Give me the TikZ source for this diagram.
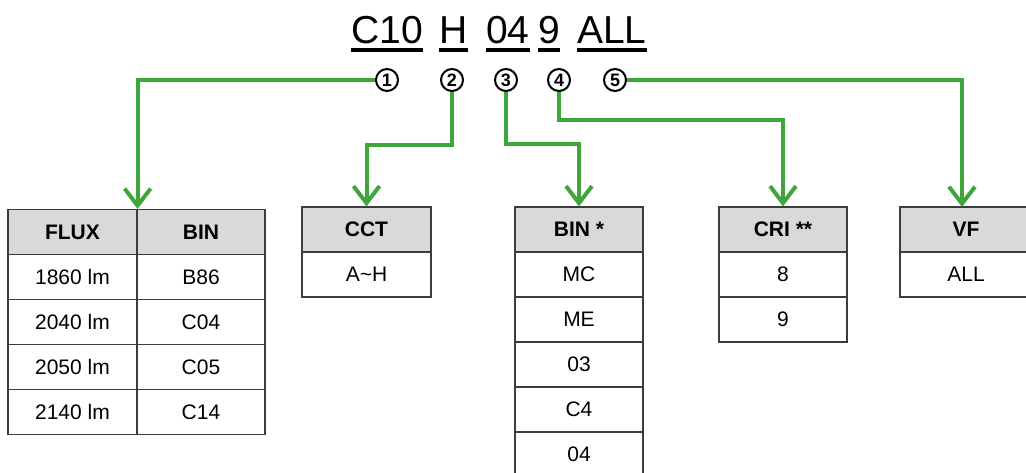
\documentclass[tikz,border=0pt]{standalone}
\usepackage{fontspec}
\setmainfont{Liberation Sans}
\usepackage{xcolor}
\usetikzlibrary{arrows.meta}
\definecolor{linkgreen}{HTML}{3FA53A}
\definecolor{headgray}{HTML}{D9D9D9}
\definecolor{gridgray}{HTML}{3C3C3C}

\begin{document}
\begin{tikzpicture}[
    x=1pt, y=-1pt,
    cell/.style={draw=gridgray, line width=1.2pt, minimum height=45pt,
        inner sep=0pt, font=\fontsize{21}{21}\selectfont},
    headcell/.style={cell, fill=headgray, font=\fontsize{21}{21}\selectfont\bfseries},
    codepart/.style={inner sep=0pt, anchor=base west, font=\fontsize{39}{39}\selectfont},
    uline/.style={line width=4pt},
    marker/.style={draw, circle, line width=2pt, inner sep=0pt, minimum size=22pt,
        font=\fontsize{18}{18}\selectfont\bfseries},
    link/.style={linkgreen, line width=4pt, -{Straight Barb[length=17pt, width=26pt, line width=4pt]}}
]
\useasboundingbox (0,0) rectangle (1026,472);

% code on top
\node[codepart] (pc10) at (351,43) {C10};
\node[codepart] (ph) at (439,43) {H};
\node[codepart] (p04) at (486,43) {04};
\node[codepart] (p9) at (538,43) {9};
\node[codepart] (pall) at (577,43) {ALL};
\foreach \p in {pc10,ph,p04,p9,pall}
    \draw[uline] (\p.west |- 0,50) -- (\p.east |- 0,50);

% circled numbers
\node[marker] (m1) at (387,80) {1};
\node[marker] (m2) at (452,80) {2};
\node[marker] (m3) at (506,80) {3};
\node[marker] (m4) at (559,80) {4};
\node[marker] (m5) at (615,80) {5};

% flux table
\node[headcell, minimum width=129pt] (fluxh) at (72.5,232) {FLUX};
\node[headcell, minimum width=128pt] (binh) at (201,232) {BIN};
\foreach \f/\b [count=\i] in {1860 lm/B86, 2040 lm/C04, 2050 lm/C05, 2140 lm/C14} {
    \node[cell, minimum width=129pt] (flux\i) at (72.5,232+45*\i) {\f};
    \node[cell, minimum width=128pt] (bin\i) at (201,232+45*\i) {\b};
}

% cct table
\node[headcell, minimum width=129pt] (ccth) at (366.5,229.5) {CCT};
\node[cell, minimum width=129pt] (cct1) at (366.5,274.5) {A\char`\~H};

% bin table
\node[headcell, minimum width=128pt] (fbinh) at (579,229.5) {BIN *};
\foreach \v [count=\i] in {MC, ME, 03, C4, 04}
    \node[cell, minimum width=128pt] (fbin\i) at (579,229.5+45*\i) {\v};

% cri table
\node[headcell, minimum width=128pt] (crih) at (783,229.5) {CRI **};
\foreach \v [count=\i] in {8, 9}
    \node[cell, minimum width=128pt] (cri\i) at (783,229.5+45*\i) {\v};

% vf table
\node[headcell, minimum width=132pt] (vfh) at (966,229.5) {VF};
\node[cell, minimum width=132pt] (vf1) at (966,274.5) {ALL};
\coordinate (vftop) at (962,207);

% connectors
\draw[link] (m1.west) -| (fluxh.north east);
\draw[link] (m2.south) -- (m2.south |- 0,145) -| (ccth.north);
\draw[link] (m3.south) -- (m3.south |- 0,144) -| (fbinh.north);
\draw[link] (m4.south) -- (m4.south |- 0,120) -| (crih.north);
\draw[link] (m5.east) -| (vftop);
\end{tikzpicture}
\end{document}
